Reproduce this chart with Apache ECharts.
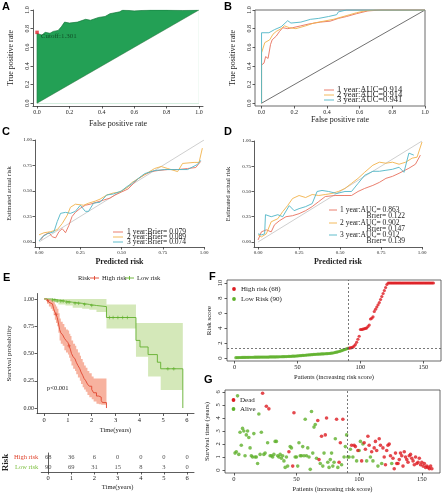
<!DOCTYPE html>
<html><head><meta charset="utf-8">
<script src="https://cdn.jsdelivr.net/npm/echarts@6/dist/echarts.min.js"></script>
<style>html,body{margin:0;padding:0;background:#fff}#c{width:443px;height:500px}</style>
</head><body><div id="c"></div>
<script>
// ---------- DATA ----------
// A: ROC (risk score)
const rocAx = [0,0,0.03,0.05,0.08,0.1,0.13,0.15,0.17,0.2,0.25,0.3,0.33,0.38,0.42,0.45,0.48,0.51,0.53,0.6,0.7,0.8,0.9,1.0];
const rocAy = [0,0.75,0.73,0.76,0.75,0.77,0.78,0.82,0.87,0.86,0.87,0.9,0.89,0.92,0.93,0.96,0.97,0.98,1.0,0.99,1.0,1.0,0.995,1.0];
const diagX = [0,1];
const diagY = [0,1];
const cutoffPoint = [0, 0.76];
// B: time-dependent ROC
const b1x = [0,0,0.015,0.025,0.04,0.055,0.065,0.09,0.11,0.13,0.16,0.19,0.24,0.29,0.36,0.42,0.47,0.52,0.58,0.65,0.73,0.85,1.0];
const b1y = [0,0.41,0.43,0.5,0.48,0.63,0.68,0.72,0.77,0.81,0.8,0.81,0.83,0.85,0.87,0.88,0.91,0.93,0.96,0.99,1.0,1.0,1.0];
const b2x = [0,0,0.02,0.05,0.07,0.09,0.12,0.14,0.17,0.21,0.27,0.32,0.38,0.44,0.48,0.54,0.58,0.63,0.69,0.85,1.0];
const b2y = [0,0.54,0.65,0.68,0.74,0.77,0.8,0.83,0.81,0.8,0.83,0.86,0.88,0.9,0.92,0.95,0.97,0.99,1.0,1.0,1.0];
const b3x = [0,0,0.045,0.045,0.08,0.12,0.16,0.18,0.24,0.3,0.35,0.41,0.46,0.47,0.52,0.7,1.0];
const b3y = [0,0.756,0.756,0.77,0.79,0.82,0.885,0.86,0.87,0.9,0.91,0.93,0.95,0.98,1.0,1.0,1.0];
// C: calibration (Brier)
const c1x = [0.01,0.03,0.06,0.08,0.1,0.12,0.14,0.16,0.18,0.2,0.22,0.25,0.28,0.31,0.35,0.39,0.43,0.46,0.5,0.54,0.57,0.6,0.64,0.68,0.72,0.78,0.84,0.9,0.95,0.98];
const c1y = [0.02,0.066,0.09,0.05,0.04,0.1,0.13,0.09,0.16,0.25,0.29,0.33,0.36,0.37,0.39,0.41,0.43,0.46,0.49,0.52,0.57,0.62,0.66,0.69,0.7,0.71,0.71,0.72,0.73,0.79];
const c2x = [0.0,0.03,0.07,0.11,0.14,0.17,0.19,0.22,0.27,0.3,0.34,0.37,0.41,0.45,0.49,0.54,0.56,0.6,0.64,0.7,0.74,0.78,0.84,0.87,0.94,0.97,0.99];
const c2y = [0.07,0.09,0.1,0.12,0.18,0.26,0.34,0.37,0.36,0.38,0.4,0.42,0.46,0.48,0.49,0.54,0.58,0.62,0.66,0.72,0.74,0.72,0.69,0.77,0.78,0.78,0.92];
const c3x = [0.0,0.02,0.05,0.09,0.11,0.13,0.16,0.19,0.22,0.25,0.28,0.3,0.33,0.37,0.41,0.45,0.5,0.53,0.56,0.6,0.64,0.7,0.76,0.82,0.9,0.96,0.98];
const c3y = [0.01,0.05,0.08,0.1,0.2,0.28,0.29,0.28,0.3,0.36,0.3,0.3,0.38,0.39,0.46,0.47,0.5,0.54,0.57,0.62,0.67,0.7,0.71,0.71,0.71,0.76,0.8];
// D: calibration (AUC + Brier)
const d1x = [0.0,0.02,0.05,0.08,0.1,0.13,0.17,0.21,0.25,0.29,0.33,0.37,0.41,0.47,0.53,0.57,0.61,0.65,0.7,0.74,0.78,0.82,0.86,0.92,0.96,0.99];
const d1y = [0.02,0.1,0.12,0.1,0.17,0.21,0.25,0.26,0.28,0.31,0.35,0.4,0.45,0.46,0.46,0.46,0.5,0.53,0.56,0.59,0.63,0.65,0.68,0.73,0.77,0.86];
const d2x = [0.0,0.02,0.05,0.08,0.12,0.15,0.18,0.21,0.25,0.29,0.33,0.37,0.41,0.45,0.49,0.53,0.57,0.61,0.65,0.7,0.74,0.78,0.82,0.86,0.9,0.94,0.97,1.0];
const d2y = [0.07,0.05,0.08,0.2,0.23,0.3,0.36,0.43,0.46,0.44,0.47,0.46,0.47,0.48,0.5,0.53,0.58,0.63,0.69,0.76,0.79,0.78,0.79,0.77,0.79,0.83,0.84,0.99];
const d3x = [0.0,0.02,0.04,0.045,0.08,0.12,0.15,0.19,0.22,0.25,0.29,0.33,0.36,0.39,0.43,0.48,0.53,0.57,0.61,0.65,0.7,0.74,0.78,0.82,0.86,0.89,0.92,0.95];
const d3y = [0.08,0.07,0.08,0.27,0.25,0.27,0.25,0.36,0.31,0.33,0.35,0.38,0.5,0.51,0.5,0.48,0.5,0.5,0.58,0.66,0.7,0.7,0.71,0.72,0.74,0.69,0.88,0.86];
// E: Kaplan-Meier
const kmHighT  = [0,0.12,0.2,0.28,0.35,0.4,0.45,0.5,0.55,0.6,0.65,0.7,0.78,0.85,0.92,1.0,1.05,1.1,1.15,1.22,1.3,1.35,1.42,1.5,1.55,1.62,1.68,1.75,1.82,1.9,2.0,2.08,2.2,2.3,2.4,2.45,2.62];
const kmHighS  = [1,0.985,0.97,0.955,0.94,0.91,0.88,0.86,0.83,0.78,0.72,0.69,0.67,0.64,0.62,0.6,0.57,0.54,0.5,0.47,0.45,0.42,0.39,0.36,0.33,0.3,0.27,0.25,0.22,0.2,0.17,0.14,0.11,0.1,0.07,0.05,0];
const kmHighLo = [1,0.955,0.93,0.91,0.89,0.85,0.81,0.78,0.75,0.69,0.62,0.59,0.57,0.53,0.51,0.49,0.46,0.43,0.39,0.36,0.34,0.31,0.28,0.25,0.22,0.19,0.17,0.15,0.12,0.1,0.08,0.06,0.04,0.035,0.03,0.03,0.03];
const kmHighUp = [1,1,1,0.99,0.985,0.97,0.95,0.93,0.91,0.87,0.82,0.79,0.77,0.74,0.72,0.71,0.68,0.66,0.62,0.59,0.57,0.54,0.51,0.48,0.45,0.42,0.39,0.37,0.34,0.32,0.29,0.27,0.27,0.27,0.27,0.27,0.27];
const kmLowT  = [0,0.3,0.6,0.9,1.2,1.6,1.9,2.2,2.62,3.86,4.03,4.37,4.76,4.9,5.83];
const kmLowS  = [1,0.99,0.98,0.97,0.96,0.95,0.94,0.93,0.83,0.62,0.56,0.49,0.42,0.36,0];
const kmLowLo = [1,0.97,0.95,0.94,0.92,0.91,0.9,0.88,0.73,0.47,0.47,0.29,0.29,0.165,0.165];
const kmLowUp = [1,1,1,1,1,1,1,1,0.95,0.78,0.78,0.78,0.78,0.78,0.78];
const censLowT = [0.35,0.45,0.55,0.7,0.8,0.95,1.05,1.3,1.45,1.7,2.0,2.75,2.9,3.1,3.3,3.5,5.2,5.45];
const censLowS = [0.99,0.99,0.98,0.98,0.98,0.97,0.97,0.96,0.96,0.95,0.94,0.83,0.83,0.83,0.83,0.83,0.36,0.36];
const censHighT = [0.15,0.5,1.05];
const censHighS = [0.985,0.86,0.57];
// E: number at risk
const riskTimes = [0,1,2,3,4,5,6];
const riskHigh = [68,36,6,0,0,0,0];
const riskLow  = [90,69,31,15,8,3,0];
const riskRows = ['Low risk','High risk'];
// F: risk score per patient (sorted)
const riskScoreLow = [0.05,0.06,0.06,0.07,0.07,0.08,0.08,0.08,0.09,0.09,0.09,0.10,0.10,0.10,0.10,0.11,0.11,0.11,0.11,0.12,0.12,0.12,0.12,0.13,0.13,0.13,0.13,0.14,0.14,0.14,0.15,0.15,0.15,0.16,0.16,0.17,0.17,0.18,0.18,0.19,0.19,0.20,0.21,0.22,0.23,0.24,0.25,0.26,0.27,0.28,0.30,0.31,0.33,0.34,0.36,0.37,0.39,0.40,0.42,0.43,0.45,0.46,0.48,0.49,0.50,0.51,0.52,0.53,0.54,0.55,0.56,0.57,0.58,0.59,0.60,0.62,0.64,0.67,0.70,0.74,0.78,0.82,0.87,0.92,0.98,1.04,1.10,1.16,1.22,1.28];
const riskScoreHigh = [1.32,1.35,1.38,1.45,1.6,1.8,2.1,2.5,2.9,3.8,3.8,3.85,3.9,3.95,4.0,4.2,4.4,5.2,5.3,5.5,6.2,6.5,6.8,7.1,7.4,7.8,8.2,8.6,9.0,9.4,9.8,10,10,10,10,10,10,10,10,10,10,10,10,10,10,10,10,10,10,10,10,10,10,10,10,10,10,10,10,10,10,10,10,10,10,10,10,10];
const cutoffScore = 1.301;
const splitIndex = 90.5;
// G: survival time / status per patient (1 = dead)
const survTime = [1.3,1.4,5.7,1.2,2.9,1.9,3.2,3.0,1.1,2.7, 3.0,2.5,1.7,1.1,1.0,2.8,1.0,1.0,0.5,4.3, 1.2,2.9,5.9,1.2,1.3,4.9,2.1,4.7,1.1,1.1, 1.0,1.2,2.2,2.2,1.1,1.0,1.2,0.9,1.1,0.7, 0.2,1.0,0.3,1.4,1.8,1.7,0.3,4.4,1.0,1.0, 0.3,2.1,1.1,1.1,1.8,1.1,3.9,1.1,1.7,1.0, 0.05,4.5,1.3,3.3,3.5,0.9,3.8,0.8,0.5,2.6, 0.3,1.3,2.7,4.0,0.6,0.2,0.8,1.3,0.3,0.6, 2.4,3.9,0.2,0.6,2.1,0.4,3.9,1.0,1.8,2.7, 1.0,1.0,1.6,1.9,1.0,1.9,1.8,0.7,1.5,1.5, 2.2,0.7,2.0,2.1,1.6,0.7,2.6,1.9,1.0,1.4, 0.7,1.7,2.2,1.5,0.3,2.4,1.9,0.5,1.7,1.0, 0.4,1.5,1.9,2.0,1.1,0.5,0.9,0.1,1.3,0.5, 0.5,0.8,1.3,1.1,0.3,1.4,1.0,0.8,0.6,1.1, 1.2,0.9,0.7,0.4,1.0,0.5,0.6,0.9,0.4,0.6, 0.3,0.5,0.2,0.3,0.2,0.1,0.3,0.1];
const survStatus = [0,0,0,0,0,0,0,0,0,0, 0,0,0,0,0,0,0,0,0,0, 0,0,1,0,0,1,0,1,0,0, 0,0,0,0,0,0,0,0,0,0, 0,0,0,1,0,0,1,1,0,0, 0,0,0,0,0,0,0,0,0,0, 0,0,0,0,0,0,1,1,0,1, 0,0,1,1,0,0,0,0,0,0, 0,1,0,1,1,0,1,0,0,0, 0,0,0,1,0,1,1,0,1,0, 0,1,0,1,1,0,1,1,0,1, 0,1,1,1,0,1,1,0,1,1, 1,1,1,1,1,0,1,1,1,1, 1,1,1,1,1,1,1,1,1,1, 1,1,1,1,1,1,1,1,1,1, 1,1,1,1,1,1,1,1];

// ---------- STYLE ----------
const SERIF = 'Liberation Serif';
const COL1 = '#E8705E', COL2 = '#F2B24B', COL3 = '#4FB5C6';
const GREEN_A = '#23a055';
const KM_RED = '#E0452F', KM_GREEN = '#62B02E';
const PT_RED = '#DD1C22', PT_GREEN = '#5FB02C';

function xv(g, min, max, ticks, o) {
  o = o || {};
  return {
    type: 'value', gridIndex: g, min: min, max: max, position: 'bottom',
    axisLine: {show: o.line !== false, onZero: false, lineStyle: {color: '#333', width: 0.8}},
    axisTick: {show: true, length: 2.5, customValues: ticks, lineStyle: {color: '#333', width: 0.8}},
    axisLabel: {show: true, customValues: ticks, formatter: o.fmt, fontFamily: SERIF, fontSize: o.fs || 6, color: '#222', margin: o.margin == null ? 3 : o.margin},
    splitLine: {show: false},
    name: o.name || '', nameLocation: 'middle', nameGap: o.gap || 12,
    nameTextStyle: {fontFamily: SERIF, fontSize: o.nfs || 7, color: '#222', fontWeight: o.nfw || 'normal'}
  };
}
function yv(g, min, max, ticks, o) {
  o = o || {};
  return {
    type: 'value', gridIndex: g, min: min, max: max, position: 'left',
    axisLine: {show: o.line !== false, onZero: false, lineStyle: {color: '#333', width: 0.8}},
    axisTick: {show: true, length: 2.5, customValues: ticks, lineStyle: {color: '#333', width: 0.8}},
    axisLabel: {show: true, customValues: ticks, formatter: o.fmt, fontFamily: SERIF, fontSize: o.fs || 6, color: '#222', margin: o.margin == null ? 3 : o.margin, rotate: o.rotate || 0},
    splitLine: {show: false},
    name: o.name || '', nameLocation: 'middle', nameGap: o.gap || 20, nameRotate: 90,
    nameTextStyle: {fontFamily: SERIF, fontSize: o.nfs || 7, color: '#222', fontWeight: o.nfw || 'normal'}
  };
}
const f1 = v => v.toFixed(1), f2 = v => v.toFixed(2);
const t02 = [0,0.2,0.4,0.6,0.8,1.0], t025 = [0,0.25,0.5,0.75,1.0];

function line(g, xs, ys, color, w, extra) {
  return Object.assign({type: 'line', xAxisIndex: g, yAxisIndex: g, data: xs.map((x, i) => [x, ys[i]]),
    symbol: 'none', silent: true, lineStyle: {color: color, width: w || 1}}, extra || {});
}
// confidence band drawn as a step polygon through the axis scales
function band(g, ts, lo, up, color, opacity) {
  return {
    type: 'custom', xAxisIndex: g, yAxisIndex: g, silent: true, z: 1,
    data: [[ts[0], up[0]]],
    renderItem: function (params, api) {
      const pts = [];
      for (let i = 0; i < ts.length; i++) {
        if (i > 0) pts.push(api.coord([ts[i], up[i - 1]]));
        pts.push(api.coord([ts[i], up[i]]));
      }
      for (let i = ts.length - 1; i >= 0; i--) {
        pts.push(api.coord([ts[i], lo[i]]));
        if (i > 0) pts.push(api.coord([ts[i], lo[i - 1]]));
      }
      return {type: 'polygon', shape: {points: pts}, style: {fill: color, opacity: opacity}};
    }
  };
}

// graphic helpers
function T(x, y, text, size, color, align) {
  return {type: 'text', x: x, y: y, silent: true,
    style: {text: text, font: size + 'px "Liberation Serif"', fill: color || '#222', align: align || 'left', verticalAlign: 'middle'}};
}
function TB(x, y, text) {
  return {type: 'text', x: x, y: y, silent: true, style: {text: text, font: 'bold 11px "Liberation Sans"', fill: '#000', align: 'left', verticalAlign: 'top'}};
}
function L(x1, y1, x2, y2, color, w) {
  return {type: 'line', silent: true, shape: {x1: x1, y1: y1, x2: x2, y2: y2}, style: {stroke: color, lineWidth: w || 1}};
}
function Cc(cx, cy, r, color) {
  return {type: 'circle', silent: true, shape: {cx: cx, cy: cy, r: r}, style: {fill: color}};
}

const grids = [
  {left: 33, top: 10, width: 170, height: 96},
  {left: 255, top: 10, width: 170, height: 96, show: true, borderColor: '#444', borderWidth: 0.8},
  {left: 35, top: 140, width: 169, height: 107},
  {left: 254, top: 141, width: 168, height: 106},
  {left: 37, top: 293.5, width: 157, height: 120},
  {left: 37, top: 453, width: 157, height: 19},
  {left: 227, top: 280, width: 214, height: 81, show: true, borderColor: '#444', borderWidth: 0.8},
  {left: 225, top: 390, width: 215, height: 83, show: true, borderColor: '#444', borderWidth: 0.8}
];

const xAxes = [
  xv(0, -0.025, 1.025, t02, {fmt: f1, name: 'False positive rate', gap: 14, nfs: 8}),
  xv(1, -0.04, 1.0, t02, {fmt: f1, name: 'False positive rate', gap: 8, nfs: 8, line: false}),
  xv(2, -0.025, 1.0, t025, {fmt: f2, fs: 5, name: 'Predicted risk', gap: 11, nfs: 8, nfw: 'bold'}),
  xv(3, -0.025, 1.0, t025, {fmt: f2, fs: 5, name: 'Predicted risk', gap: 11, nfs: 8, nfw: 'bold'}),
  xv(4, -0.3, 6.3, riskTimes, {name: 'Time(years)', gap: 13, nfs: 6.5, fs: 6.5}),
  xv(5, -0.3, 6.3, riskTimes, {name: 'Time(years)', gap: 12, nfs: 6.5, fs: 6.5}),
  xv(6, -6, 164, [0,50,100,150], {line: false, name: 'Patients (increasing risk score)', gap: 13, nfs: 6.5, fs: 6.5}),
  xv(7, -7, 164.5, [0,50,100,150], {line: false, name: 'Patients (increasing risk score)', gap: 13, nfs: 6.5, fs: 6.5})
];
const yAxes = [
  yv(0, -0.03, 1.0, t02, {fmt: f1, rotate: 90, name: 'True positive rate', gap: 18, nfs: 8}),
  yv(1, -0.03, 1.0, t02, {fmt: f1, rotate: 90, name: 'True positive rate', gap: 18, nfs: 8, line: false}),
  yv(2, -0.05, 1.0, t025, {fmt: f2, fs: 5, name: 'Estimated actual risk', gap: 22, nfs: 6.5}),
  yv(3, -0.05, 1.0, t025, {fmt: f2, fs: 5, name: 'Estimated actual risk', gap: 22, nfs: 6.5}),
  yv(4, -0.05, 1.05, t025, {fmt: f2, fs: 6, name: 'Survival probability', gap: 24, nfs: 7}),
  {type: 'category', gridIndex: 5, data: riskRows, position: 'left',
   axisLine: {show: true, lineStyle: {color: '#333', width: 0.8}}, axisTick: {show: false},
   axisLabel: {fontFamily: SERIF, fontSize: 6.5, margin: 3, color: v => v === 'High risk' ? KM_RED : '#7CBF3F'},
   name: 'Risk', nameLocation: 'middle', nameRotate: 90, nameGap: 29,
   nameTextStyle: {fontFamily: SERIF, fontSize: 9, fontWeight: 'bold', color: '#222'}},
  yv(6, -0.4, 10.4, [0,2,4,6,8,10], {line: false, rotate: 90, fs: 6.5, name: 'Risk score', gap: 14, nfs: 7}),
  yv(7, -0.23, 6.15, [0,1,2,3,4,5,6], {line: false, rotate: 90, fs: 6.5, name: 'Survival time (years)', gap: 14, nfs: 7})
];

const plusSym = 'path://M5,0L5,10M0,5L10,5';
const dashStyle = {color: '#555', width: 0.8, type: [2, 2]};

const series = [
  // A
  line(0, rocAx, rocAy, '#167a3c', 0.7, {areaStyle: {color: GREEN_A, opacity: 1}, z: 2}),
  line(0, diagX, diagY, '#2a6e3d', 0.5, {areaStyle: {color: '#ffffff', opacity: 1}, z: 3}),
  {type: 'scatter', xAxisIndex: 0, yAxisIndex: 0, data: [cutoffPoint], symbol: 'rect', symbolSize: 3.5, silent: true, z: 4,
   itemStyle: {color: '#E0202A'},
   label: {show: true, position: 'right', distance: 2, offset: [0, 4], formatter: 'Cutoff:1.301', fontFamily: SERIF, fontSize: 7, color: '#0c3b1c'}},
  // B
  line(1, diagX, diagY, '#333', 0.7),
  line(1, b1x, b1y, COL1, 0.9),
  line(1, b2x, b2y, COL2, 0.9),
  line(1, b3x, b3y, COL3, 0.9),
  // C
  line(2, diagX, diagY, '#cfcfcf', 1),
  line(2, c1x, c1y, COL1, 0.9),
  line(2, c2x, c2y, COL2, 0.9),
  line(2, c3x, c3y, COL3, 0.9),
  // D
  line(3, diagX, diagY, '#cfcfcf', 1),
  line(3, d1x, d1y, COL1, 0.9),
  line(3, d2x, d2y, COL2, 0.9),
  line(3, d3x, d3y, COL3, 0.9),
  // E bands
  band(4, kmLowT, kmLowLo, kmLowUp, '#CFE5B1', 0.9),
  band(4, kmHighT, kmHighLo, kmHighUp, '#F6A48E', 0.85),
  // E curves
  line(4, kmHighT, kmHighS, KM_RED, 0.9, {step: 'end', z: 4}),
  line(4, kmLowT, kmLowS, KM_GREEN, 0.9, {step: 'end', z: 4}),
  {type: 'scatter', xAxisIndex: 4, yAxisIndex: 4, data: censLowT.map((t, i) => [t, censLowS[i]]), symbol: plusSym, symbolSize: 3.5, silent: true, z: 5,
   itemStyle: {color: 'none', borderColor: KM_GREEN, borderWidth: 0.8}},
  {type: 'scatter', xAxisIndex: 4, yAxisIndex: 4, data: censHighT.map((t, i) => [t, censHighS[i]]), symbol: plusSym, symbolSize: 3.5, silent: true, z: 5,
   itemStyle: {color: 'none', borderColor: KM_RED, borderWidth: 0.8}},
  // E risk table
  {type: 'scatter', xAxisIndex: 5, yAxisIndex: 5, data: riskTimes.map(t => [t, 'High risk']), symbolSize: 0, silent: true,
   label: {show: true, position: 'inside', formatter: p => String(riskHigh[p.dataIndex]), fontFamily: SERIF, fontSize: 6.5, color: '#222'}},
  {type: 'scatter', xAxisIndex: 5, yAxisIndex: 5, data: riskTimes.map(t => [t, 'Low risk']), symbolSize: 0, silent: true,
   label: {show: true, position: 'inside', formatter: p => String(riskLow[p.dataIndex]), fontFamily: SERIF, fontSize: 6.5, color: '#222'}},
  // F
  {type: 'scatter', xAxisIndex: 6, yAxisIndex: 6, data: riskScoreLow.map((v, i) => [i + 1, v]), symbolSize: 3.2, silent: true, itemStyle: {color: PT_GREEN},
   markLine: {silent: true, symbol: 'none', label: {show: false}, lineStyle: dashStyle, data: [{xAxis: splitIndex}, {yAxis: cutoffScore}]}},
  {type: 'scatter', xAxisIndex: 6, yAxisIndex: 6, data: riskScoreHigh.map((v, i) => [i + 1 + riskScoreLow.length, v]), symbolSize: 3.2, silent: true, itemStyle: {color: PT_RED}},
  // G
  {type: 'scatter', xAxisIndex: 7, yAxisIndex: 7, data: survTime.map((t, i) => survStatus[i] === 0 ? [i + 1, t] : null).filter(d => d), symbolSize: 3.6, silent: true, itemStyle: {color: PT_GREEN},
   markLine: {silent: true, symbol: 'none', label: {show: false}, lineStyle: dashStyle, data: [{xAxis: splitIndex}]}},
  {type: 'scatter', xAxisIndex: 7, yAxisIndex: 7, data: survTime.map((t, i) => survStatus[i] === 1 ? [i + 1, t] : null).filter(d => d), symbolSize: 3.6, silent: true, itemStyle: {color: PT_RED}}
];

const graphics = [
  TB(2, 1, 'A'), TB(224, 1, 'B'), TB(2, 126, 'C'), TB(224, 126, 'D'), TB(3, 272, 'E'), TB(209, 271, 'F'), TB(204, 374, 'G'),
  T(153, 94, 'AUC=0.941', 8),
  // B legend
  L(324, 90, 334, 90, COL1, 0.9), T(337, 90, '1 year:AUC=0.914', 8.5),
  L(324, 95, 334, 95, COL2, 0.9), T(337, 95, '2 year:AUC=0.914', 8.5),
  L(324, 100, 334, 100, COL3, 0.9), T(337, 100, '3 year:AUC=0.941', 8.5),
  // C legend
  L(113, 232, 123, 232, COL1, 0.9), T(127, 232, '1 year:Brier= 0.079', 7.5),
  L(113, 237, 123, 237, COL2, 0.9), T(127, 237, '2 year:Brier= 0.089', 7.5),
  L(113, 242, 123, 242, COL3, 0.9), T(127, 242, '3 year:Brier= 0.074', 7.5),
  // D legend
  L(329, 210, 337, 210, COL1, 0.9), T(340, 210, '1 year:AUC= 0.863', 7.5),
  T(405, 216, 'Brier= 0.122', 7.5, '#222', 'right'),
  L(329, 223, 337, 223, COL2, 0.9), T(340, 223, '2 year:AUC= 0.902', 7.5),
  T(405, 229, 'Brier= 0.147', 7.5, '#222', 'right'),
  L(329, 235, 337, 235, COL3, 0.9), T(340, 235, '3 year:AUC= 0.912', 7.5),
  T(405, 241, 'Brier= 0.139', 7.5, '#222', 'right'),
  // E legend
  T(78, 278, 'Risk', 6.5),
  L(90, 278, 99, 278, KM_RED, 0.9), L(94.5, 276, 94.5, 280, KM_RED, 0.9), T(102, 278, 'High risk', 6.5),
  L(125, 278, 134, 278, KM_GREEN, 0.9), L(129.5, 276, 129.5, 280, KM_GREEN, 0.9), T(137, 278, 'Low risk', 6.5),
  T(47, 388, 'p<0.001', 6.5),
  // F legend
  Cc(234, 289, 1.9, PT_RED), T(241, 289, 'High risk (68)', 7),
  Cc(234, 299, 1.9, PT_GREEN), T(241, 299, 'Low Risk (90)', 7),
  // G legend
  Cc(233.5, 400, 1.9, PT_RED), T(240, 400, 'Dead', 7),
  Cc(233.5, 409, 1.9, PT_GREEN), T(240, 409, 'Alive', 7)
];

const chart = echarts.init(document.getElementById('c'), null, {renderer: 'canvas'});
chart.setOption({
  animation: false,
  backgroundColor: '#fff',
  grid: grids,
  xAxis: xAxes,
  yAxis: yAxes,
  series: series,
  graphic: {elements: graphics}
});
</script>
</body></html>
